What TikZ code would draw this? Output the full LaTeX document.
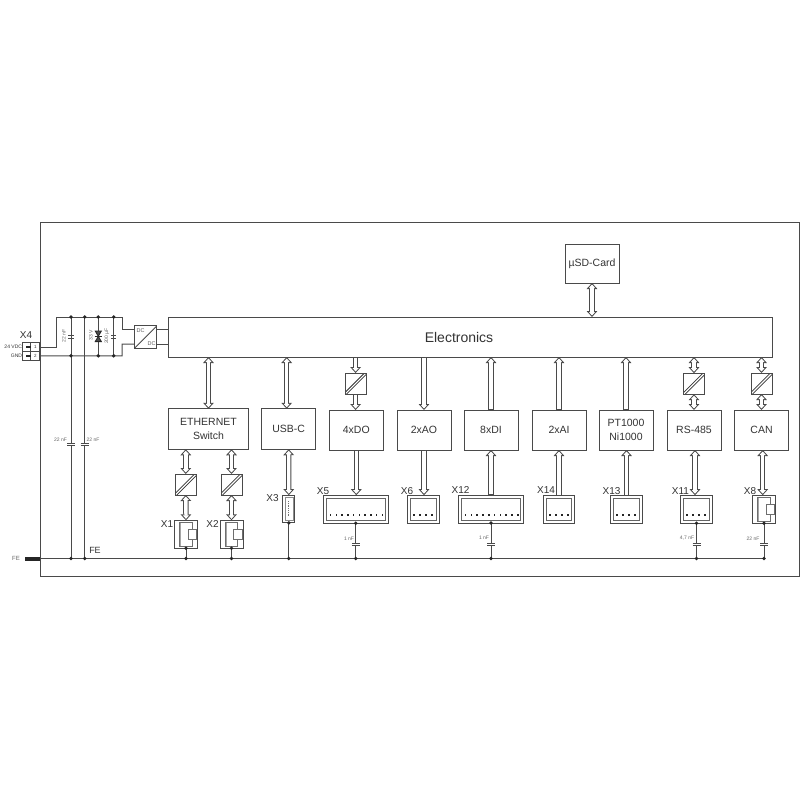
\documentclass[tikz,border=0pt]{standalone}
\usepackage{fontspec}
\setmainfont{Liberation Sans}
\usetikzlibrary{arrows.meta,calc}
\definecolor{ink}{HTML}{4A4A4A}
\definecolor{txt}{HTML}{333333}
\newcommand{\fsz}[1]{\fontsize{#1pt}{\dimexpr #1pt*12/10\relax}\selectfont}
\tikzset{
  every node/.style={text=txt,inner sep=0pt,outer sep=0pt},
  ln/.style={draw=ink,line width=1pt},
  blk/.style={draw=ink,line width=1pt,fill=white,align=center,font=\fsz{10.5}},
  iso/.style={draw=ink,line width=1pt,fill=white,minimum width=21pt,minimum height=21pt,
    path picture={\draw[draw=ink!70!black,line width=.9pt,double=white,double distance=1.2pt]
      (path picture bounding box.south west)--(path picture bounding box.north east);}},
  term/.style={draw=ink,line width=1pt,fill=white,minimum height=28pt,
    path picture={\draw[ink!85,line width=1pt]
      ([shift={(3pt,3pt)}]path picture bounding box.south west) rectangle
      ([shift={(-3pt,-3pt)}]path picture bounding box.north east);}},
  rj/.style={draw=ink,line width=1pt,fill=white,minimum width=23pt,minimum height=28pt},
  headO/.tip={Triangle[length=6pt,width=10.5pt]},
  headI/.tip={Triangle[length=3.5pt,width=6.1pt]},
  busO/.style={draw=ink,line width=5.4pt},
  busI/.style={draw=white,line width=3.4pt},
  smallt/.style={font=\fsz{5},text=txt!75},
  xl/.style={font=\fsz{10}},
}
% hollow bus arrows: outer stroke, then white core
\newcommand{\both}[2]{%
  \draw[busO,{headO}-{headO}] #1 -- #2;
  \draw[busI,{headI}-{headI},shorten <=1.5pt,shorten >=1.5pt] #1 -- #2;}
\newcommand{\oneway}[2]{%
  \draw[busO,-{headO}] #1 -- #2;
  \draw[busI,-{headI},shorten <=.6pt,shorten >=1.5pt] #1 -- #2;}
\newcommand{\dotj}[1]{\fill[black!85] #1 circle (1.9pt);}
\newcommand{\capH}[2]{%
  \fill[white] (#1-4,#2-.8) rectangle (#1+4,#2+.8);
  \draw[ink,line width=.9pt] (#1-4,#2-1) -- (#1+4,#2-1) (#1-4,#2+1) -- (#1+4,#2+1);}
\newcommand{\rjins}[2]{% left x, top y of connector
  \draw[black!35,line width=1.4pt] (#1+6.2,#2+2.5) -- (#1+6.2,#2+25.5);
  \draw[ink!80,line width=.7pt] (#1+5.3,#2+2.3) -- (#1+17.6,#2+2.3) -- (#1+17.6,#2+9.5) -- (#1+22,#2+9.5)
    -- (#1+22,#2+19) -- (#1+17.6,#2+19) -- (#1+17.6,#2+25.7) -- (#1+5.3,#2+25.7) -- cycle;
  \draw[ink!80,line width=.7pt] (#1+22,#2+9.5) -- (#1+13.6,#2+9.5) -- (#1+13.6,#2+19) -- (#1+22,#2+19);}
\newcommand{\pins}[3]{% first x, count, step
  \foreach \i in {1,...,#2}{\fill[black!85] ({#1+(\i-1)*#3-.8},514.2) rectangle ++(1.6,1.6);}}
\begin{document}
\begin{tikzpicture}[x=1pt,y=-1pt]
\useasboundingbox (0,0) rectangle (800,800);
\fill[white] (0,0) rectangle (800,800);
% outer frame
\draw[ln] (40,222.5) rectangle (799.5,576.5);
\coordinate (feL) at (40,558.5);
\coordinate (feR) at (764,558.5);
\coordinate (rail) at (56,317);
% main blocks
\node[blk,minimum width=604.5pt,minimum height=40pt,font=\fsz{14}] (elec) at (470.5,337) {Electronics\hspace{23pt}};
\node[blk,minimum width=54pt,minimum height=39pt] (sd) at (592,263.5) {µSD-Card};
\node[blk,minimum width=79.5pt,minimum height=40.5pt] (eth) at (208.5,429) {ETHERNET\\[1pt]Switch};
\node[blk,minimum width=53.5pt,minimum height=40.5pt] (usb) at (288.7,429) {USB-C};
\node[blk,minimum width=54pt,minimum height=40pt] (do) at (356.3,430) {4xDO};
\node[blk,minimum width=54pt,minimum height=40pt] (ao) at (424,430) {2xAO};
\node[blk,minimum width=54pt,minimum height=40pt] (di) at (491,430) {8xDI};
\node[blk,minimum width=54pt,minimum height=40pt] (ai) at (559,430) {2xAI};
\node[blk,minimum width=54pt,minimum height=40pt] (pt) at (626,430) {PT1000\\[1pt]Ni1000};
\node[blk,minimum width=54pt,minimum height=40pt] (rs) at (694,430) {RS-485};
\node[blk,minimum width=54pt,minimum height=40pt] (can) at (761.5,430) {CAN};
% isolators
\node[iso] (iso1) at (185.8,484.5) {};
\node[iso] (iso2) at (231.5,484.5) {};
\node[iso] (isodo) at (355.6,383.5) {};
\node[iso] (isors) at (694,383.7) {};
\node[iso] (isocan) at (761.5,383.5) {};
% connectors
\node[rj] (x1) at (186,534.3) {};
\node[rj] (x2) at (231.5,534.3) {};
\node[rj] (x8) at (764,509.2) {};
\node[draw=ink,line width=1pt,fill=white,minimum width=12.3pt,minimum height=27.7pt] (x3) at (288.8,509) {};
\node[term,minimum width=65pt] (x5) at (355.8,509.2) {};
\node[term,minimum width=31.5pt] (x6) at (423.3,509.2) {};
\node[term,minimum width=64.6pt] (x12) at (491,509) {};
\node[term,minimum width=31.5pt] (x14) at (559,509.2) {};
\node[term,minimum width=31.5pt] (x13) at (626.5,509.2) {};
\node[term,minimum width=31.5pt] (x11) at (696.5,509.2) {};
\rjins{174.5}{520.3}
\rjins{220}{520.3}
\rjins{752.5}{495.2}
\draw[black!45,line width=.7pt] (285.4,497.7) rectangle (293,520.2);
\draw[black!55,line width=.8pt,dash pattern=on .8pt off 1pt] (288,501) -- (288,517);
\pins{330.6}{10}{5.75}
\pins{414}{4}{6}
\pins{465.5}{10}{5.8}
\pins{549.7}{4}{6}
\pins{617.2}{4}{6}
\pins{687.2}{4}{6}
% hollow arrows
\both{(sd.south)}{(sd.south |- elec.north)}
\both{(eth.north)}{(eth.north |- elec.south)}
\both{([xshift=-2pt]usb.north)}{([xshift=-2pt]usb.north |- elec.south)}
\oneway{(isodo.north |- elec.south)}{(isodo.north)}
\oneway{(isodo.south)}{(isodo.south |- do.north)}
\oneway{(ao.north |- elec.south)}{(ao.north)}
\oneway{(di.north)}{(di.north |- elec.south)}
\oneway{(ai.north)}{(ai.north |- elec.south)}
\oneway{(pt.north)}{(pt.north |- elec.south)}
\both{(isors.north)}{(isors.north |- elec.south)}
\both{(isors.south)}{(isors.south |- rs.north)}
\both{(isocan.north)}{(isocan.north |- elec.south)}
\both{(isocan.south)}{(isocan.south |- can.north)}
\both{(eth.south -| iso1.north)}{(iso1.north)}
\both{(eth.south -| iso2.north)}{(iso2.north)}
\both{(iso1.south)}{(x1.north)}
\both{(iso2.south)}{(x2.north)}
\both{(usb.south)}{(x3.north)}
\oneway{(do.south)}{(do.south |- x5.north)}
\oneway{(ao.south)}{(ao.south |- x6.north)}
\oneway{(x12.north)}{(x12.north |- di.south)}
\oneway{(x14.north)}{(x14.north |- ai.south)}
\oneway{(x13.north)}{(x13.north |- pt.south)}
\both{([xshift=-1.5pt]x11.north)}{([xshift=-1.5pt]x11.north |- rs.south)}
\both{([xshift=-1.3pt]x8.north)}{([xshift=-1.3pt]x8.north |- can.south)}
% FE rail and drops
\fill[black!85] (25.3,556.6) rectangle (40,560.6);
\draw[ln] (feL) -- (feR);
\foreach \n in {x1,x2,x3,x5,x12,x11,x8}{
  \draw[ln] (\n.south) -- (\n.south |- feL);
  \dotj{(\n.south)}
  \dotj{(\n.south |- feL)}
}
\capH{355.8}{544}
\capH{491}{544}
\capH{696.5}{544}
\capH{764}{544}
\node[smallt] at (349,539) {1 nF};
\node[smallt] at (484,538) {1 nF};
\node[smallt] at (687,538.5) {4,7 nF};
\node[smallt] at (753,538.5) {22 nF};
% supply
\node[draw=ink,line width=1pt,fill=white,minimum width=17pt,minimum height=8.7pt] (t1) at (31.2,347.2) {};
\node[draw=ink,line width=1pt,fill=white,minimum width=17pt,minimum height=8.7pt] (t2) at (31.2,355.9) {};
\draw[ink,line width=.8pt] (30.7,343) -- (30.7,360.2);
\fill[black!85] (25.5,346.2) rectangle (31,348); \fill[black!85] (25.5,355) rectangle (31,356.8);
\node[font=\fsz{4.5}] at (35.4,347.3) {1};
\node[font=\fsz{4.5}] at (35.4,356) {2};
\node[font=\fsz{10}] at (26,335) {X4};
\node[font=\fsz{5},anchor=east] at (22,347.2) {24 VDC};
\node[font=\fsz{5},anchor=east] at (22,356) {GND};
\coordinate (top1) at (122,317);
\coordinate (bot1) at (122,355.8);
\node[draw=ink,line width=1pt,fill=white,minimum width=22.5pt,minimum height=22.5pt,
  path picture={\draw[ink,line width=.9pt] (path picture bounding box.south west)--(path picture bounding box.north east);}] (dcdc) at (145.7,337) {};
\node[font=\fsz{5.5},text=txt!80] at (140.5,330.5) {DC};
\node[font=\fsz{5.5},text=txt!80] at (151.5,344) {DC};
\draw[ln] (t1.east) -- (56,347.2) -- (rail) -- (top1) -- (122,329.7) -- ([yshift=7.3pt]dcdc.west);
\draw[ln] (t2.east) -- (bot1) -- (122,344.2) -- ([yshift=-7.2pt]dcdc.west);
\draw[ln] ([yshift=7.3pt]dcdc.east) -- ([yshift=7.3pt]dcdc.east -| elec.west);
\draw[ln] ([yshift=-7.2pt]dcdc.east) -- ([yshift=-7.2pt]dcdc.east -| elec.west);
\foreach \x in {71,84.7}{
  \draw[ln] (\x,317) -- (\x,558.5);
  \dotj{(\x,558.5)}
  \dotj{(\x,317)}
}
\foreach \x in {98.3,113.7}{
  \draw[ln] (\x,317) -- (\x,355.8);
  \dotj{(\x,355.8)}
  \dotj{(\x,317)}
}
\dotj{(71,355.8)}
\capH{71}{444}
\capH{84.7}{444}
\node[smallt] at (60.5,440) {22 nF};
\node[smallt] at (93,440) {22 nF};
\node[font=\fsz{9}] at (95,550) {FE};
\node[font=\fsz{6},text=txt!75] at (16,558.5) {FE};
% small capacitors on the supply
\fill[ink] (68.3,334.7) rectangle (73.7,336.2); \fill[ink] (68.3,337.6) rectangle (73.7,339.1);
\fill[ink] (111,334.7) rectangle (116.4,336.2); \fill[ink] (111,337.6) rectangle (116.4,339.1);
% TVS diode
\fill[white] (95,330.5) rectangle (101.6,342);
\draw[black!85,line width=.8pt,fill=black!70] (95.2,331) -- (101.4,331) -- (98.3,336.3) -- cycle;
\draw[black!85,line width=.8pt,fill=black!70] (95.2,341.6) -- (101.4,341.6) -- (98.3,336.3) -- cycle;
\draw[black!85,line width=.8pt] (94.6,336.3) -- (102,336.3);
\node[smallt,rotate=90] at (64,336) {22 nF};
\node[smallt,rotate=90] at (91,335.5) {33 V};
\node[smallt,rotate=90] at (107,336) {200 µF};
% labels
\node[xl] at (167,524.5) {X1};
\node[xl] at (212.5,524.5) {X2};
\node[xl] at (272.5,498) {X3};
\node[xl] at (323,491) {X5};
\node[xl] at (407,491) {X6};
\node[xl] at (460.5,490) {X12};
\node[xl] at (546,490.5) {X14};
\node[xl] at (611.5,491) {X13};
\node[xl] at (680.5,491) {X11};
\node[xl] at (750,491) {X8};
\end{tikzpicture}
\end{document}
